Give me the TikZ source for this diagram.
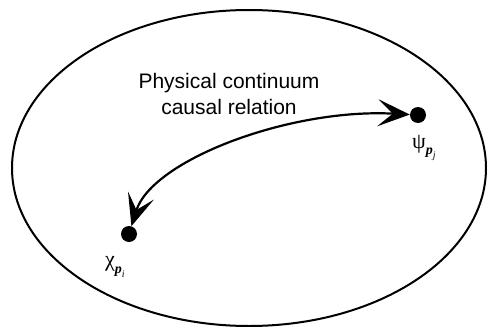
\documentclass[tikz,border=0pt]{standalone}
\usepackage{fontspec}
\setmainfont{Liberation Serif}
\newfontfamily\labsans{Liberation Sans}
\usetikzlibrary{arrows.meta}
\newcommand{\subidx}[2]{{\fontsize{22}{24}\selectfont #1\raisebox{-0.3em}{\fontsize{14}{15}\selectfont\textit{\textbf{p}}\raisebox{-0.3em}{\fontsize{10}{11}\selectfont\textit{#2}}}}}
\begin{document}
\begin{tikzpicture}[x=1pt,y=-1pt,
  dot/.style={circle,fill=black,inner sep=0pt,minimum size=16pt},
  conn/.style={line width=2.2pt,{Stealth[length=32pt,width=27pt,inset=15pt]}-{Stealth[length=32pt,width=27pt,inset=15pt]}},
  caption/.style={font=\labsans\fontsize{21}{25.5}\selectfont,align=center}]
\useasboundingbox (0,0) rectangle (488,327);
\draw[line width=2pt] (249,168) ellipse [x radius=237, y radius=158];
\node[dot] (psi) at (418,115) {};
\node[dot] (chi) at (129,234) {};
\node[caption] (cap) at (229,94) {Physical continuum\\causal relation};
\node (psilab) at (424,148) {\subidx{ψ}{j}};
\node (chilab) at (115,267) {\subidx{χ}{i}};
\draw[conn] (psi) .. controls (290,108) and (152,160) .. (chi);
\end{tikzpicture}
\end{document}
